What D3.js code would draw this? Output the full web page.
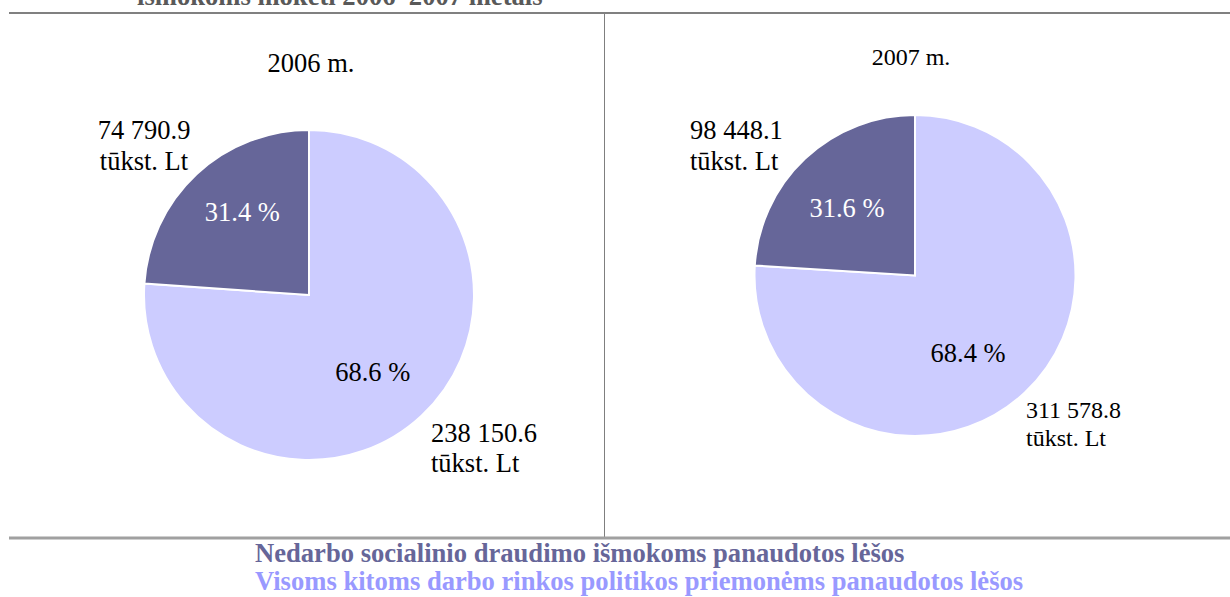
<!DOCTYPE html>
<html>
<head>
<meta charset="utf-8">
<script src="https://cdnjs.cloudflare.com/ajax/libs/d3/7.8.5/d3.min.js"></script>
<style>
    body { margin: 0; background: #fff; }
</style>
</head>
<body>
<svg id="chart"></svg>
<script>
var years = ['2006 m.', '2007 m.'];
var seriesNames = [
    'Nedarbo socialinio draudimo išmokoms panaudotos lėšos',
    'Visoms kitoms darbo rinkos politikos priemonėms panaudotos lėšos'
];
// tūkst. Lt
var nedarboValues = [74790.9, 98448.1];
var kitosValues = [238150.6, 311578.8];
// percentages as printed on the slices
var nedarboPct = ['31.4 %', '31.6 %'];
var kitosPct = ['68.6 %', '68.4 %'];
var unitLabel = 'tūkst. Lt';
var titleText = 'išmokoms mokėti 2006–2007 metais';

var colors = ['#666699', '#ccccff'];
var legendColors = ['#666699', '#9999ff'];

var width = 1230;
var height = 597;
var serif = '"Liberation Serif", "Times New Roman", Times, serif';

// layout of each pie panel; nudges move the % labels off the plain centroid
var panels = [
    { cx: 309, cy: 295, r: 165, titleX: 311, titleY: 72, titleSize: 26.5,
      nudge: [[-5, 3], [2, -9]],
      darkLbl: { x: 144, y: 139, anchor: 'middle', size: 26.5, gap: 31 },
      lightLbl: { x: 431, y: 442, anchor: 'start', size: 26.5, gap: 30 } },
    { cx: 915, cy: 275.5, r: 160.5, titleX: 911, titleY: 65, titleSize: 24,
      nudge: [[-14, 6], [-1, 4]],
      darkLbl: { x: 690, y: 139, anchor: 'start', size: 26.5, gap: 31 },
      lightLbl: { x: 1026, y: 418, anchor: 'start', size: 24, gap: 28 } }
];

var locale = d3.formatLocale({ decimal: '.', thousands: ' ', grouping: [3], currency: ['', ''] });
var fmt = locale.format(',.1f');

var svg = d3.select('#chart')
    .attr('width', width)
    .attr('height', height);

// cut off title at the very top
svg.append('text')
    .attr('x', 137)
    .attr('y', 5)
    .attr('font-size', 26.6)
    .attr('font-weight', 'bold')
    .attr('fill', '#595959')
    .style('font-family', serif)
    .text(titleText);

svg.append('line')
    .attr('x1', 9).attr('x2', width)
    .attr('y1', 13).attr('y2', 13)
    .attr('stroke', '#808080')
    .attr('stroke-width', 2);

svg.append('line')
    .attr('x1', 604.5).attr('x2', 604.5)
    .attr('y1', 14).attr('y2', 537)
    .attr('stroke', '#7f7f7f')
    .attr('stroke-width', 1);

svg.append('line')
    .attr('x1', 9).attr('x2', width)
    .attr('y1', 538).attr('y2', 538)
    .attr('stroke', '#a0a0a0')
    .attr('stroke-width', 3);

var pie = d3.pie().sort(null);

function drawPanel(i) {
    var p = panels[i];
    // light slice first, clockwise from 12 o'clock
    var values = [kitosValues[i], nedarboValues[i]];
    var pcts = [kitosPct[i], nedarboPct[i]];
    var slices = pie(values);

    var arc = d3.arc().innerRadius(0).outerRadius(p.r);
    var labelArc = d3.arc().innerRadius(p.r * 0.61).outerRadius(p.r * 0.61);

    var g = svg.append('g')
        .attr('transform', 'translate(' + p.cx + ',' + p.cy + ')');

    g.selectAll('path')
        .data(slices)
        .enter()
        .append('path')
        .attr('d', arc)
        .attr('fill', function (d, j) {
            return j === 0 ? colors[1] : colors[0];
        })
        .attr('stroke', '#fff')
        .attr('stroke-width', 2);

    g.selectAll('text.pct')
        .data(slices)
        .enter()
        .append('text')
        .classed('pct', true)
        .attr('x', function (d, j) { return labelArc.centroid(d)[0] + p.nudge[j][0]; })
        .attr('y', function (d, j) { return labelArc.centroid(d)[1] + p.nudge[j][1]; })
        .attr('dy', '0.34em')
        .attr('text-anchor', 'middle')
        .attr('font-size', 26.5)
        .style('font-family', serif)
        .attr('fill', function (d, j) {
            return j === 0 ? '#000' : '#fff';
        })
        .text(function (d, j) { return pcts[j]; });

    svg.append('text')
        .attr('x', p.titleX)
        .attr('y', p.titleY)
        .attr('text-anchor', 'middle')
        .attr('font-size', p.titleSize)
        .style('font-family', serif)
        .text(years[i]);

    var outer = [
        { lbl: p.darkLbl, value: nedarboValues[i] },
        { lbl: p.lightLbl, value: kitosValues[i] }
    ];
    outer.forEach(function (o) {
        var t = svg.append('text')
            .attr('text-anchor', o.lbl.anchor)
            .attr('font-size', o.lbl.size)
            .style('font-family', serif);
        t.append('tspan')
            .attr('x', o.lbl.x)
            .attr('y', o.lbl.y)
            .text(fmt(o.value));
        t.append('tspan')
            .attr('x', o.lbl.x)
            .attr('y', o.lbl.y + o.lbl.gap)
            .text(unitLabel);
    });
}

for (var i = 0; i < years.length; i++) {
    drawPanel(i);
}

svg.selectAll('text.legend')
    .data(seriesNames)
    .enter()
    .append('text')
    .classed('legend', true)
    .attr('x', 255)
    .attr('y', function (d, i) { return 562 + i * 28; })
    .attr('font-size', 26.6)
    .attr('font-weight', 'bold')
    .style('font-family', serif)
    .attr('fill', function (d, i) { return legendColors[i]; })
    .text(function (d) { return d; });
</script>
</body>
</html>
